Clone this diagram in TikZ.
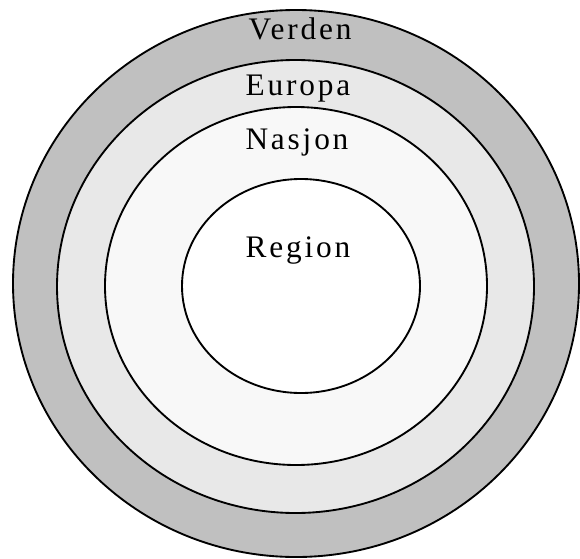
\documentclass[tikz,border=0pt]{standalone}
\usepackage{fontspec}
\setmainfont{Liberation Serif}[LetterSpace=9]
\usetikzlibrary{positioning}
\definecolor{worldc}{HTML}{C0C0C0}
\definecolor{europec}{HTML}{E8E8E8}
\definecolor{nationc}{HTML}{F8F8F8}
\definecolor{regionc}{HTML}{FFFFFF}

\begin{document}
\begin{tikzpicture}[x=0.75pt, y=0.75pt, line width=1.4pt,
    ring/.style={draw=black},
    lbl/.style={anchor=base, inner sep=0pt, font=\fontsize{23.5}{27}\selectfont}]
    % frame: 580 x 558 px, y measured upwards
    \useasboundingbox (0,0) rectangle (580,558);
    % rings, outside in
    \filldraw[ring, fill=worldc]  (296,274.5) ellipse [x radius=283,   y radius=273.5];
    \filldraw[ring, fill=europec] (295.5,271.5) ellipse [x radius=238.5, y radius=226.5];
    \filldraw[ring, fill=nationc] (296,272) ellipse [x radius=191,   y radius=179];
    \filldraw[ring, fill=regionc] (301,272) ellipse [x radius=119,   y radius=107];
    % labels
    \node[lbl] (verden) at (300,518) {Verden};
    \node[lbl] (europa) at (298,462) {Europa};
    \node[lbl] (nasjon) at (297,409) {Nasjon};
    \node[lbl] (region) at (298,301) {Region};
\end{tikzpicture}
\end{document}
